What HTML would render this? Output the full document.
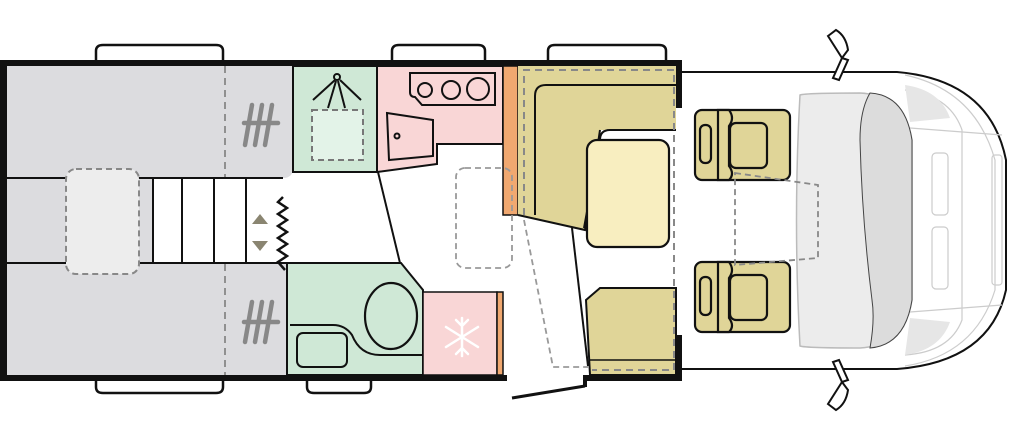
<!DOCTYPE html>
<html><head><meta charset="utf-8"><style>html,body{margin:0;padding:0;background:#fff}svg{display:block}</style></head>
<body>
<svg width="1024" height="435" viewBox="0 0 1024 435" xmlns="http://www.w3.org/2000/svg" font-family="Liberation Sans, sans-serif">
<g fill="#fff" stroke="#111" stroke-width="2.5">
<path d="M96,62 V51 Q96,45 103,45 H216 Q223,45 223,51 V62"/>
<path d="M392,62 V51 Q392,45 399,45 H478 Q485,45 485,51 V62"/>
<path d="M548,62 V51 Q548,45 555,45 H659 Q666,45 666,51 V62"/>
<path d="M96,378 V387 Q96,393 103,393 H216 Q223,393 223,387 V378"/>
<path d="M307,378 V387 Q307,393 314,393 H364 Q371,393 371,387 V378"/>
</g>
<g fill="#fff" stroke="#111" stroke-width="2">
<path d="M680,72 H897 Q990,80 1006,160 V290 Q990,362 897,369 H680"/>
</g>
<g fill="none" stroke="#ccc" stroke-width="1.2">
<path d="M905,75 Q975,90 995,160 V290 Q975,355 905,366"/>
<path d="M905,90 Q950,95 962,130 V320 Q950,352 905,355"/>
<path d="M910,128 L1002,135 M910,312 L1002,305"/>
<rect x="932" y="153" width="16" height="62" rx="4"/><rect x="932" y="227" width="16" height="62" rx="4"/>
<rect x="992" y="155" width="10" height="130" rx="3"/>
</g>
<path d="M905,85 Q940,90 950,118 L910,122Z M905,355 Q940,350 950,322 L910,318Z" fill="#e6e6e6"/>
<path d="M800,95 Q806,93 860,93 Q905,95 912,140 V300 Q905,345 860,348 Q806,348 800,346 Q793,220 800,95Z" fill="#ececec" stroke="#bbb" stroke-width="1.5"/>
<path d="M870,93 Q905,95 912,140 V300 Q905,345 870,348 Q875,320 872,300 Q862,220 860,140 Q860,110 870,93Z" fill="#dcdcdc" stroke="#444" stroke-width="1"/>
<g fill="#fff" stroke="#111" stroke-width="2">
<path d="M828,36 L836,30 Q846,36 848,50 L842,58 Z"/><path d="M842,58 L848,60 L839,80 L833,78 Z"/>
<path d="M828,404 L836,410 Q846,404 848,390 L842,382 Z"/><path d="M842,382 L848,380 L839,360 L833,362 Z"/>
</g>
<g stroke="#111" stroke-width="2.2" fill="#e0d598">
<rect x="695" y="110" width="95" height="70" rx="7"/>
<rect x="695" y="262" width="95" height="70" rx="7"/>
<path d="M718,110 H729 Q735,118 729,126 V166 Q735,174 729,180 H718 Z"/>
<path d="M718,262 H729 Q735,270 729,278 V318 Q735,326 729,332 H718 Z"/>
<rect x="730" y="123" width="37" height="45" rx="6"/>
<rect x="730" y="275" width="37" height="45" rx="6"/>
<rect x="700" y="125" width="11" height="38" rx="5"/>
<rect x="700" y="277" width="11" height="38" rx="5"/>
</g>
<path d="M735,173 L818,185 V258 L735,265 Z" fill="none" stroke="#888" stroke-width="1.8" stroke-dasharray="6,4"/>
<path d="M7,66 H293 V168 Q293,178 283,178 H7 Z" fill="#dcdcdf"/>
<path d="M7,263 H287 V375 H7 Z" fill="#dcdcdf"/>
<rect x="7" y="178" width="146" height="85" fill="#dcdcdf"/>
<g stroke="#111" stroke-width="2"><line x1="7" y1="178" x2="283" y2="178"/><line x1="7" y1="263" x2="287" y2="263"/>
<line x1="153" y1="178" x2="153" y2="263"/><line x1="182" y1="178" x2="182" y2="263"/><line x1="214" y1="178" x2="214" y2="263"/><line x1="246" y1="178" x2="246" y2="263"/></g>
<rect x="66" y="169" width="73" height="105" rx="10" fill="#ededed" stroke="#888" stroke-width="2" stroke-dasharray="6,4"/>
<line x1="225" y1="66" x2="225" y2="177" stroke="#888" stroke-width="1.8" stroke-dasharray="7,5"/>
<line x1="225" y1="264" x2="225" y2="375" stroke="#888" stroke-width="1.8" stroke-dasharray="7,5"/>
<g stroke="#888" stroke-width="4.5" stroke-linecap="round">
<line x1="252" y1="105" x2="245" y2="145"/><line x1="262" y1="105" x2="255" y2="145"/><line x1="272" y1="105" x2="265" y2="145"/><line x1="244" y1="123" x2="278" y2="123"/>
<line x1="252" y1="302" x2="245" y2="342"/><line x1="262" y1="302" x2="255" y2="342"/><line x1="272" y1="302" x2="265" y2="342"/><line x1="244" y1="322" x2="278" y2="322"/>
</g>
<path d="M252,224 L260,214 L268,224Z M252,241 L268,241 L260,251Z" fill="#8a8571"/>
<path d="M283,197 L278,202 L287,208 L278,214 L287,220 L278,226 L287,232 L278,238 L287,244 L278,250 L287,256 L278,262 L285,270" fill="none" stroke="#111" stroke-width="2.5"/>
<rect x="293" y="66" width="84" height="106" fill="#cfe8d6" stroke="#111" stroke-width="2"/>
<rect x="312" y="110" width="51" height="50" fill="#e3f3e8" stroke="#777" stroke-width="2" stroke-dasharray="6,4"/>
<g stroke="#111" stroke-width="2" fill="none"><circle cx="337" cy="77" r="3"/><path d="M335,80 L313,100 M336,81 L328,108 M338,81 L345,108 M340,80 L361,100"/></g>
<path d="M377,66 H503 V144 H437 V164 L377,172 Z" fill="#f9d6d6" stroke="#111" stroke-width="2"/>
<path d="M410,73 H495 V105 H422 L415,97 Q410,97 410,92 Z" fill="#f9d6d6" stroke="#111" stroke-width="2"/>
<g fill="none" stroke="#111" stroke-width="2"><circle cx="425" cy="90" r="7"/><circle cx="451" cy="90" r="9"/><circle cx="478" cy="89" r="11"/>
<path d="M387,113 L433,120 V156 L389,160 Z"/><circle cx="397" cy="136" r="2.5"/></g>
<rect x="503" y="66" width="15" height="149" fill="#f0a870" stroke="#111" stroke-width="1.5"/>
<g stroke="#111" stroke-width="2" fill="none"><path d="M378,172 L400,263"/><path d="M572,228 L588,366"/></g>
<path d="M287,263 H401 L423,290 V375 H287 Z" fill="#cfe8d6" stroke="#111" stroke-width="2"/>
<ellipse cx="391" cy="316" rx="26" ry="33" fill="#cfe8d6" stroke="#111" stroke-width="2.2"/>
<path d="M290,325 H333 Q345,325 352,335 Q360,355 380,355 H423" fill="none" stroke="#111" stroke-width="2"/>
<rect x="297" y="333" width="50" height="34" rx="6" fill="#cfe8d6" stroke="#111" stroke-width="2"/>
<rect x="423" y="292" width="74" height="83" fill="#f9d6d6" stroke="#111" stroke-width="1.5"/>
<rect x="497" y="292" width="6" height="83" fill="#f0a870" stroke="#111" stroke-width="1.5"/>
<g stroke="#fff" stroke-width="2.5" fill="none" stroke-linecap="round"><path d="M462,318 V356 M446,327 L478,347 M446,347 L478,327 M456,320 L462,326 L468,320 M456,354 L462,348 L468,354"/></g>
<path d="M518,66 H676 V130 H600 L585,230 L518,215 Z" fill="#e0d598"/>
<path d="M518,215 L585,230 L600,130" fill="none" stroke="#111" stroke-width="2"/>
<path d="M535,215 V96 Q535,85 546,85 H676 M676,130 H610 Q600,130 600,140 L584,228" fill="none" stroke="#111" stroke-width="2"/>
<rect x="587" y="140" width="82" height="107" rx="10" fill="#f8eec0" stroke="#111" stroke-width="2.2"/>
<path d="M586,300 L600,288 H676 V375 H590 Z" fill="#e0d598" stroke="#111" stroke-width="2"/>
<line x1="590" y1="360" x2="676" y2="360" stroke="#111" stroke-width="1.5"/>
<path d="M524,215 V70 H674 V370 H592" fill="none" stroke="#888" stroke-width="2" stroke-dasharray="7,5"/>
<path d="M524,220 L553,367 H588" fill="none" stroke="#999" stroke-width="1.8" stroke-dasharray="6,4"/>
<rect x="456" y="168" width="56" height="100" rx="9" fill="none" stroke="#999" stroke-width="1.8" stroke-dasharray="6,4"/>
<g fill="#111">
<rect x="0" y="60" width="682" height="6"/>
<rect x="0" y="375" width="507" height="6"/>
<rect x="586" y="375" width="96" height="6"/>
<rect x="0" y="60" width="7" height="321"/>
<rect x="676" y="60" width="6" height="48"/>
<rect x="676" y="335" width="6" height="46"/>
<rect x="583" y="375" width="4" height="12"/>
</g>
<line x1="512" y1="398" x2="585" y2="386" stroke="#111" stroke-width="3"/>
</svg>
</body></html>
